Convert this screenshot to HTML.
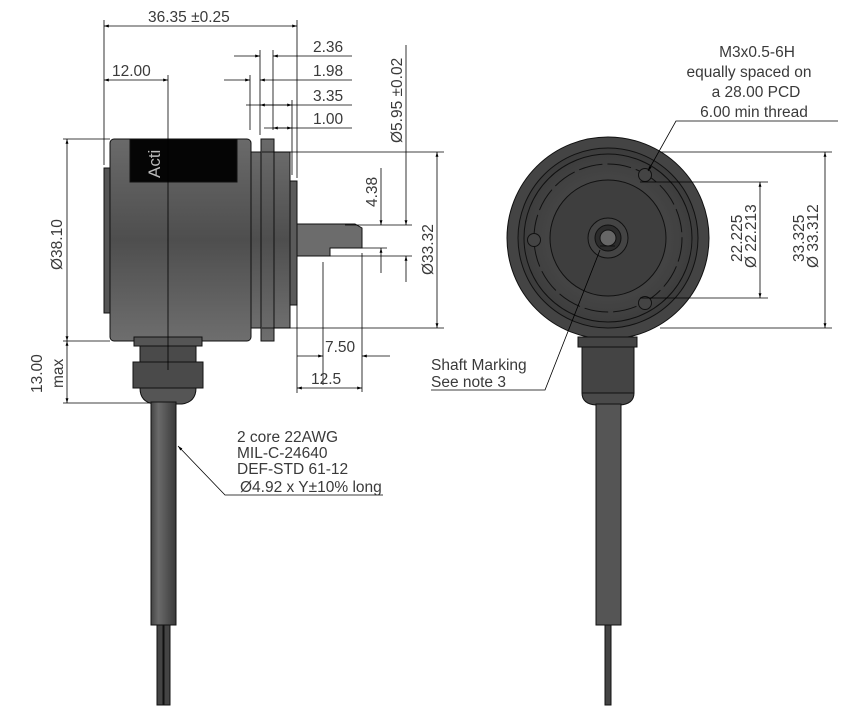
<!DOCTYPE html>
<html><head><meta charset="utf-8"><style>
html,body{margin:0;padding:0;background:#fff;width:860px;height:712px;overflow:hidden}
text{font-family:"Liberation Sans",sans-serif;fill:#3a3a3a;font-size:15.5px}
</style></head><body>
<svg width="860" height="712" viewBox="0 0 860 712" xmlns="http://www.w3.org/2000/svg">
<defs>
<linearGradient id="bg" x1="0" y1="0" x2="0" y2="1">
<stop offset="0" stop-color="#6a6a6a"/><stop offset="0.5" stop-color="#4e4e4e"/><stop offset="1" stop-color="#6e6e6e"/></linearGradient>
<linearGradient id="cg" x1="0" y1="0" x2="1" y2="0">
<stop offset="0" stop-color="#444"/><stop offset="0.3" stop-color="#6a6a6a"/><stop offset="1" stop-color="#3a3a3a"/></linearGradient>
<radialGradient id="rg"><stop offset="0" stop-color="#555"/><stop offset="1" stop-color="#3c3c3c"/></radialGradient>
<marker id="a" viewBox="0 0 10 10" refX="10" refY="5" markerWidth="10" markerHeight="6" orient="auto-start-reverse"><path d="M0,2 L10,5 L0,8z" fill="#000"/></marker>
</defs>
<g stroke="#111" stroke-width="1">
<rect x="104" y="168" width="8" height="145" fill="#555"/>
<rect x="110" y="139" width="141" height="202" rx="4" fill="url(#bg)"/>
<rect x="130" y="139" width="107" height="43" fill="#050505"/>
<rect x="251" y="152" width="10" height="176" fill="url(#bg)"/>
<rect x="261" y="139" width="13" height="202" fill="url(#bg)"/>
<rect x="274" y="152" width="16" height="176" fill="url(#bg)"/>
<rect x="290" y="181" width="7" height="124" fill="#5a5a5a"/>
<path d="M297,224 H355 L362,228 V248 H330 V256 H297z" fill="#6c6c6c"/>
<rect x="134" y="337" width="68" height="9" fill="#555"/>
<rect x="140" y="346" width="56" height="16" fill="#4a4a4a"/>
<rect x="133" y="362" width="70" height="26" fill="#4a4a4a"/>
<path d="M140,388 H196 Q196,402 182,404 H154 Q140,402 140,388z" fill="#555"/>
<rect x="151" y="402" width="25" height="223" fill="url(#cg)"/>
<rect x="157" y="625" width="6" height="80" fill="#444"/>
<rect x="164" y="625" width="6" height="80" fill="#444"/>
<circle cx="608" cy="238" r="101" fill="#444"/>
<circle cx="608" cy="238" r="90" fill="url(#rg)"/>
<circle cx="608" cy="238" r="84" fill="none"/>
<circle cx="608" cy="238" r="74" fill="none" stroke-dasharray="24 5"/>
<circle cx="608" cy="238" r="58" fill="#3e3e3e"/>
<circle cx="608" cy="238" r="20" fill="#444"/>
<circle cx="608" cy="238" r="13" fill="#2c2c2c"/>
<circle cx="608" cy="238" r="8" fill="#666"/>
<line x1="600" y1="246" x2="615" y2="246"/>
<circle cx="645" cy="175" r="6.5" fill="#444"/>
<circle cx="534" cy="240" r="6.5" fill="#444"/>
<circle cx="645" cy="303" r="6.5" fill="#444"/>
<rect x="578" y="337" width="59" height="10" fill="#444"/>
<rect x="582" y="347" width="52" height="46" fill="#444"/>
<path d="M582,393 H634 Q634,404 620,405 H596 Q582,404 582,393z" fill="#4a4a4a"/>
<rect x="596" y="404" width="25" height="221" fill="#555"/>
<rect x="605" y="625" width="6" height="80" fill="#444"/>
</g>
<g stroke="#000" stroke-width="0.8" fill="none">
<line x1="104" y1="20" x2="104" y2="165"/>
<line x1="297" y1="20" x2="297" y2="178"/>
<line x1="168" y1="75" x2="168" y2="370"/>
<line x1="250" y1="75" x2="250" y2="130"/>
<line x1="260" y1="50" x2="260" y2="135"/>
<line x1="273" y1="50" x2="273" y2="130"/>
<line x1="292" y1="100" x2="292" y2="175"/>
<line x1="104" y1="26" x2="297" y2="26" marker-start="url(#a)" marker-end="url(#a)"/>
<line x1="104" y1="80" x2="168" y2="80" marker-start="url(#a)" marker-end="url(#a)"/>
<line x1="234" y1="56" x2="260" y2="56" marker-end="url(#a)"/><line x1="273" y1="56" x2="352" y2="56" marker-start="url(#a)"/>
<line x1="224" y1="80" x2="250" y2="80" marker-end="url(#a)"/><line x1="260" y1="80" x2="352" y2="80" marker-start="url(#a)"/>
<line x1="246" y1="105" x2="352" y2="105"/><line x1="260" y1="105" x2="292" y2="105" marker-start="url(#a)" marker-end="url(#a)"/>
<line x1="264" y1="128" x2="352" y2="128"/><line x1="273" y1="128" x2="292" y2="128" marker-start="url(#a)" marker-end="url(#a)"/>
<line x1="262" y1="152" x2="444" y2="152"/><line x1="262" y1="328" x2="444" y2="328"/>
<line x1="437" y1="152" x2="437" y2="328" marker-start="url(#a)" marker-end="url(#a)"/>
<line x1="406" y1="45" x2="406" y2="225" marker-end="url(#a)"/><line x1="406" y1="282" x2="406" y2="256" marker-end="url(#a)"/>
<line x1="381" y1="168" x2="381" y2="225" marker-end="url(#a)"/><line x1="381" y1="273" x2="381" y2="248" marker-end="url(#a)"/>
<line x1="345" y1="225" x2="412" y2="225"/><line x1="362" y1="248" x2="387" y2="248"/><line x1="330" y1="256" x2="412" y2="256"/>
<line x1="323" y1="262" x2="323" y2="385"/><line x1="362" y1="253" x2="362" y2="392"/>
<line x1="297" y1="356" x2="323" y2="356" marker-end="url(#a)"/><line x1="390" y1="356" x2="362" y2="356" marker-end="url(#a)"/>
<line x1="297" y1="388" x2="362" y2="388" marker-start="url(#a)" marker-end="url(#a)"/>
<line x1="297" y1="300" x2="297" y2="393"/>
<line x1="63" y1="139" x2="110" y2="139"/><line x1="63" y1="341" x2="110" y2="341"/><line x1="63" y1="403" x2="150" y2="403"/>
<line x1="67" y1="139" x2="67" y2="341" marker-start="url(#a)" marker-end="url(#a)"/>
<line x1="67" y1="341" x2="67" y2="403" marker-start="url(#a)" marker-end="url(#a)"/>
<line x1="660" y1="152" x2="832" y2="152"/><line x1="660" y1="328" x2="832" y2="328"/>
<line x1="825" y1="152" x2="825" y2="328" marker-start="url(#a)" marker-end="url(#a)"/>
<line x1="640" y1="182" x2="768" y2="182"/><line x1="640" y1="298" x2="768" y2="298"/>
<line x1="760" y1="182" x2="760" y2="298" marker-start="url(#a)" marker-end="url(#a)"/>
<polyline points="838,121 676,121 648,171" marker-end="url(#a)"/>
<polyline points="431,390 545,390 600,250"/>
<polyline points="383,495 225,495 178,446" marker-end="url(#a)"/>
</g>
<text x="148" y="22">36.35 ±0.25</text>
<text x="112" y="76">12.00</text>
<text x="313" y="52">2.36</text>
<text x="313" y="76">1.98</text>
<text x="313" y="101">3.35</text>
<text x="313" y="124">1.00</text>
<text transform="translate(402,143) rotate(-90)">Ø5.95 ±0.02</text>
<text transform="translate(377,207) rotate(-90)">4.38</text>
<text transform="translate(433,275) rotate(-90)">Ø33.32</text>
<text transform="translate(62,270) rotate(-90)">Ø38.10</text>
<text transform="translate(42,393) rotate(-90)">13.00</text>
<text transform="translate(63,388) rotate(-90)">max</text>
<text x="325" y="352">7.50</text>
<text x="311" y="384">12.5</text>
<text x="237" y="442">2 core 22AWG</text>
<text x="237" y="458">MIL-C-24640</text>
<text x="237" y="474">DEF-STD 61-12</text>
<text x="240" y="492">Ø4.92 x Y±10% long</text>
<text x="757" y="57" text-anchor="middle">M3x0.5-6H</text>
<text x="749" y="77" text-anchor="middle">equally spaced on</text>
<text x="756" y="97" text-anchor="middle">a 28.00 PCD</text>
<text x="754" y="117" text-anchor="middle">6.00 min thread</text>
<text x="431" y="370">Shaft Marking</text>
<text x="431" y="387">See note 3</text>
<text transform="translate(742,262) rotate(-90)">22.225</text>
<text transform="translate(756,268) rotate(-90)">Ø 22.213</text>
<text transform="translate(804,262) rotate(-90)">33.325</text>
<text transform="translate(818,268) rotate(-90)">Ø 33.312</text>
<text transform="translate(160,178) rotate(-90)" style="fill:#bbb;font-size:17px">Acti</text>
</svg>
</body></html>
